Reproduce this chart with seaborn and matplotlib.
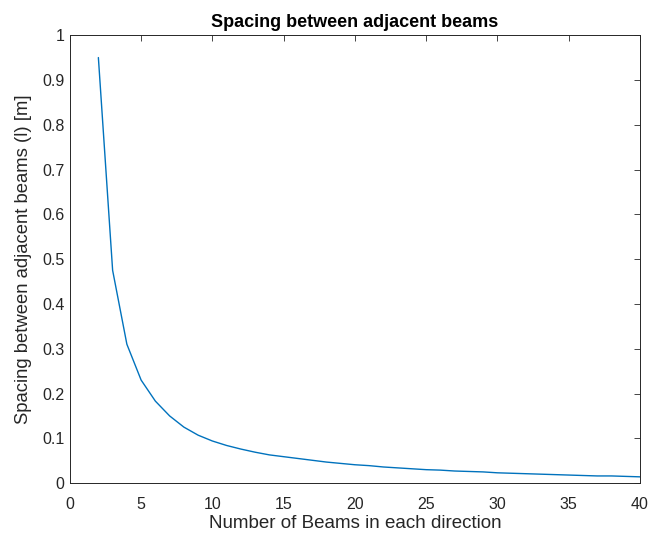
import numpy as np
import pandas as pd
import matplotlib
matplotlib.use("Agg")
import matplotlib.pyplot as plt
import seaborn as sns

# Number of beams in each direction and the resulting spacing [m]
n_beams = list(range(2, 41))
spacing = [0.95, 0.475, 0.31, 0.23, 0.183, 0.15, 0.125, 0.107, 0.094, 0.084,
           0.076, 0.069, 0.063, 0.059, 0.055, 0.051, 0.047, 0.044, 0.041, 0.039,
           0.036, 0.034, 0.032, 0.030, 0.029, 0.027, 0.026, 0.025, 0.023, 0.022,
           0.021, 0.020, 0.019, 0.018, 0.017, 0.016, 0.016, 0.015, 0.014]

x_ticks = [0, 5, 10, 15, 20, 25, 30, 35, 40]
y_ticks = [0, 0.1, 0.2, 0.3, 0.4, 0.5, 0.6, 0.7, 0.8, 0.9, 1]
y_tick_labels = ["0", "0.1", "0.2", "0.3", "0.4", "0.5", "0.6", "0.7", "0.8", "0.9", "1"]

df = pd.DataFrame({"n": n_beams, "l": spacing})

sns.set_style("white")
plt.rcParams["font.family"] = ["Liberation Sans", "DejaVu Sans"]

fig = plt.figure(figsize=(6.53, 5.41), dpi=100)
ax = fig.add_axes([0.107, 0.107, 0.873, 0.828])

sns.lineplot(data=df, x="n", y="l", ax=ax, color="#0072BD", linewidth=1.0)

ax.set_xlim(0, 40)
ax.set_ylim(0, 1)
ax.set_xticks(x_ticks)
ax.set_yticks(y_ticks)
ax.set_yticklabels(y_tick_labels)

text_color = "#262626"
ax.tick_params(axis="both", which="both", direction="in", length=4, width=0.6,
               top=True, right=True, colors=text_color, labelsize=11.5)
ax.tick_params(axis="x", pad=10)
ax.tick_params(axis="y", pad=4)
for s in ax.spines.values():
    s.set_visible(True)
    s.set_color(text_color)
    s.set_linewidth(0.7)

ax.set_xlabel("Number of Beams in each direction", fontsize=13.5, color=text_color, labelpad=2)
ax.set_ylabel("Spacing between adjacent beams (l) [m]", fontsize=13.3, color=text_color, labelpad=7)
ax.set_title("Spacing between adjacent beams", fontsize=13, fontweight="bold", color="black", pad=6)

fig.savefig("out.png", dpi=100)
